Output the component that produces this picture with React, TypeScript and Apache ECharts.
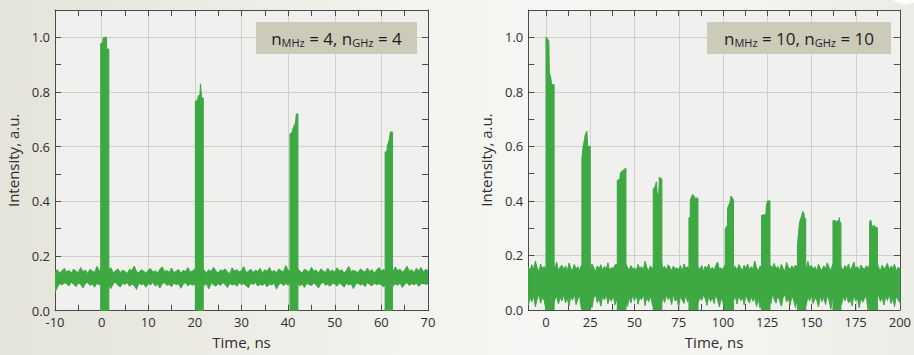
import React, { useEffect, useRef } from 'react';
import * as echarts from 'echarts';

// ---------- data ----------
// sampled noise envelopes (upper / lower edge of the dense trace)
const LEFT_T0 = -10;
const LEFT_DT = 0.5;
const LEFT_NOISE_HI = [
  0.142, 0.150, 0.138, 0.146, 0.155, 0.141, 0.148, 0.137, 0.152, 0.144,
  0.139, 0.158, 0.143, 0.149, 0.136, 0.151, 0.145, 0.140, 0.162, 0.147,
  0.150, 0.145, 0.141, 0.149, 0.157, 0.138, 0.146, 0.153, 0.140, 0.148,
  0.144, 0.136, 0.151, 0.147, 0.163, 0.142, 0.139, 0.150, 0.145, 0.137,
  0.149, 0.154, 0.141, 0.146, 0.138, 0.152, 0.160, 0.143, 0.147, 0.140,
  0.156, 0.139, 0.145, 0.151, 0.137, 0.148, 0.143, 0.158, 0.141, 0.146,
  0.152, 0.144, 0.140, 0.155, 0.147, 0.139, 0.150, 0.143, 0.159, 0.145,
  0.138, 0.149, 0.146, 0.153, 0.141, 0.136, 0.157, 0.144, 0.150, 0.142,
  0.147, 0.161, 0.139, 0.145, 0.152, 0.140, 0.148, 0.143, 0.155, 0.137,
  0.150, 0.144, 0.158, 0.141, 0.147, 0.139, 0.153, 0.146, 0.142, 0.165,
  0.148, 0.143, 0.151, 0.140, 0.156, 0.145, 0.138, 0.152, 0.147, 0.141,
  0.159, 0.144, 0.149, 0.137, 0.153, 0.146, 0.140, 0.155, 0.143, 0.148,
  0.141, 0.157, 0.145, 0.150, 0.138, 0.147, 0.162, 0.142, 0.148, 0.144,
  0.139, 0.153, 0.146, 0.141, 0.156, 0.143, 0.150, 0.137, 0.149, 0.158,
  0.145, 0.151, 0.140, 0.166, 0.148, 0.143, 0.160, 0.146, 0.152, 0.141,
  0.149, 0.163, 0.144, 0.150, 0.139, 0.155, 0.146, 0.158, 0.142, 0.151,
  0.147,
];
const LEFT_NOISE_LO = [
  0.068, 0.085, 0.100, 0.094, 0.102, 0.098, 0.091, 0.104, 0.097, 0.088,
  0.101, 0.096, 0.083, 0.099, 0.103, 0.092, 0.098, 0.086, 0.100, 0.095,
  0.097, 0.090, 0.102, 0.094, 0.081, 0.099, 0.104, 0.093, 0.087, 0.100,
  0.096, 0.103, 0.089, 0.098, 0.092, 0.078, 0.101, 0.095, 0.099, 0.086,
  0.100, 0.094, 0.104, 0.090, 0.097, 0.083, 0.099, 0.102, 0.093, 0.096,
  0.088, 0.101, 0.095, 0.099, 0.082, 0.097, 0.103, 0.091, 0.098, 0.094,
  0.096, 0.100, 0.087, 0.102, 0.093, 0.098, 0.080, 0.101, 0.095, 0.090,
  0.099, 0.092, 0.103, 0.096, 0.085, 0.100, 0.094, 0.098, 0.089, 0.102,
  0.095, 0.099, 0.091, 0.084, 0.101, 0.096, 0.103, 0.090, 0.097, 0.093,
  0.100, 0.087, 0.098, 0.094, 0.102, 0.079, 0.096, 0.101, 0.092, 0.099,
  0.094, 0.100, 0.088, 0.097, 0.103, 0.091, 0.098, 0.085, 0.100, 0.096,
  0.092, 0.101, 0.095, 0.083, 0.099, 0.104, 0.093, 0.097, 0.089, 0.100,
  0.098, 0.090, 0.102, 0.095, 0.086, 0.100, 0.094, 0.099, 0.081, 0.097,
  0.101, 0.093, 0.098, 0.088, 0.103, 0.096, 0.091, 0.100, 0.095, 0.099,
  0.094, 0.087, 0.100, 0.096, 0.102, 0.090, 0.098, 0.093, 0.101, 0.085,
  0.097, 0.103, 0.092, 0.099, 0.095, 0.100, 0.089, 0.098, 0.102, 0.096,
  0.099,
];

const RIGHT_T0 = -10;
const RIGHT_DT = 1;
const RIGHT_NOISE_HI = [
  0.158, 0.145, 0.166, 0.150, 0.180, 0.154, 0.141, 0.168, 0.152, 0.160,
  0.146, 0.170, 0.155, 0.142, 0.163, 0.150, 0.176, 0.144, 0.157, 0.164,
  0.148, 0.161, 0.143, 0.172, 0.153, 0.146, 0.167, 0.151, 0.159, 0.144,
  0.164, 0.152, 0.177, 0.145, 0.158, 0.148, 0.169, 0.155, 0.142, 0.162,
  0.151, 0.166, 0.146, 0.160, 0.149, 0.173, 0.143, 0.156, 0.150, 0.165,
  0.168, 0.147, 0.161, 0.154, 0.142, 0.171, 0.157, 0.146, 0.163, 0.150,
  0.155, 0.144, 0.167, 0.152, 0.159, 0.146, 0.179, 0.156, 0.143, 0.162,
  0.149, 0.164, 0.153, 0.141, 0.170, 0.188, 0.151, 0.160, 0.145, 0.166,
  0.157, 0.144, 0.161, 0.150, 0.155, 0.148, 0.163, 0.142, 0.169, 0.152,
  0.159, 0.147, 0.165, 0.151, 0.143, 0.174, 0.156, 0.149, 0.163, 0.141,
  0.161, 0.152, 0.168, 0.146, 0.157, 0.144, 0.164, 0.176, 0.150, 0.155,
  0.148, 0.163, 0.150, 0.158, 0.142, 0.172, 0.153, 0.160, 0.145, 0.167,
  0.156, 0.143, 0.165, 0.151, 0.169, 0.147, 0.159, 0.149, 0.180, 0.154,
  0.144, 0.161, 0.152, 0.166, 0.148, 0.158, 0.141, 0.163, 0.155, 0.171,
  0.150, 0.160, 0.145, 0.167, 0.153, 0.142, 0.174, 0.156, 0.149, 0.162,
  0.151, 0.165, 0.157, 0.144, 0.170, 0.150, 0.161, 0.147, 0.178, 0.155,
  0.164, 0.149, 0.159, 0.143, 0.168, 0.153, 0.146, 0.162, 0.151, 0.173,
  0.156, 0.145, 0.166, 0.150, 0.161, 0.140, 0.172, 0.154, 0.148, 0.163,
  0.152, 0.169, 0.146, 0.158, 0.176, 0.150, 0.160, 0.143, 0.165, 0.154,
  0.149, 0.162, 0.153, 0.167, 0.145, 0.159, 0.151, 0.175, 0.156, 0.144,
  0.164, 0.150, 0.158, 0.171, 0.147, 0.161, 0.153, 0.168, 0.143, 0.157,
  0.151,
];
const RIGHT_NOISE_LO = [
  0.018, 0.045, 0.030, 0.052, 0.012, 0.040, 0.058, 0.025, 0.047, 0.035,
  0.000, 0.042, 0.028, 0.055, 0.010, 0.038, 0.050, 0.022, 0.046, 0.033,
  0.057, 0.026, 0.044, 0.015, 0.049, 0.036, 0.060, 0.020, 0.041, 0.053,
  0.005, 0.039, 0.024, 0.000, 0.048, 0.031, 0.008, 0.045, 0.056, 0.027,
  0.043, 0.014, 0.051, 0.037, 0.058, 0.023, 0.046, 0.032, 0.054, 0.019,
  0.040, 0.003, 0.029, 0.050, 0.000, 0.035, 0.012, 0.047, 0.026, 0.055,
  0.034, 0.057, 0.021, 0.044, 0.038, 0.060, 0.016, 0.048, 0.030, 0.052,
  0.025, 0.002, 0.043, 0.000, 0.036, 0.010, 0.049, 0.028, 0.054, 0.039,
  0.047, 0.020, 0.056, 0.033, 0.041, 0.013, 0.050, 0.037, 0.024, 0.058,
  0.030, 0.045, 0.006, 0.039, 0.052, 0.000, 0.027, 0.048, 0.035, 0.055,
  0.042, 0.017, 0.053, 0.031, 0.046, 0.024, 0.059, 0.036, 0.011, 0.044,
  0.028, 0.000, 0.040, 0.015, 0.051, 0.004, 0.037, 0.049, 0.022, 0.056,
  0.034, 0.047, 0.019, 0.055, 0.038, 0.026, 0.050, 0.032, 0.045, 0.013,
  0.041, 0.007, 0.052, 0.029, 0.000, 0.036, 0.048, 0.021, 0.057, 0.039,
  0.025, 0.053, 0.035, 0.014, 0.046, 0.058, 0.030, 0.042, 0.018, 0.051,
  0.037, 0.009, 0.044, 0.000, 0.055, 0.027, 0.040, 0.016, 0.049, 0.033,
  0.056, 0.024, 0.043, 0.038, 0.011, 0.050, 0.031, 0.047, 0.020, 0.054,
  0.036, 0.003, 0.045, 0.028, 0.000, 0.041, 0.053, 0.019, 0.048, 0.034,
  0.052, 0.026, 0.039, 0.015, 0.057, 0.033, 0.046, 0.008, 0.044, 0.029,
  0.041, 0.054, 0.000, 0.037, 0.022, 0.049, 0.005, 0.040, 0.055, 0.031,
  0.046, 0.018, 0.050, 0.035, 0.059, 0.024, 0.043, 0.012, 0.051, 0.038,
  0.027,
];

// pulses: [time ns, intensity]
const LEFT_PULSES = [
  [[-0.2, 0], [-0.2, 0.977], [0.25, 0.98], [0.3, 0.997], [0.5, 1.0], [1.05, 1.0], [1.1, 0.957], [1.55, 0.957], [1.55, 0]],
  [[20.1, 0], [20.1, 0.766], [20.6, 0.77], [20.7, 0.785], [21.1, 0.79], [21.2, 0.83], [21.35, 0.8], [21.45, 0.78], [21.8, 0.778], [21.8, 0]],
  [[40.4, 0], [40.4, 0.646], [40.9, 0.655], [41.0, 0.665], [41.4, 0.68], [41.6, 0.69], [41.75, 0.72], [42.1, 0.72], [42.1, 0]],
  [[60.8, 0], [60.8, 0.58], [61.2, 0.585], [61.3, 0.605], [61.6, 0.62], [61.8, 0.64], [61.95, 0.654], [62.4, 0.654], [62.4, 0]],
];
const RIGHT_PULSES = [
  [[0.0, 0], [0.0, 1.0], [0.8, 0.995], [1.6, 0.985], [1.9, 0.87], [2.7, 0.852], [3.2, 0.826], [4.6, 0.826], [4.6, 0]],
  [[20.3, 0], [20.3, 0.555], [21.0, 0.6], [21.4, 0.613], [22.2, 0.643], [23.1, 0.656], [23.6, 0.6], [25.0, 0.6], [25.0, 0]],
  [[40.3, 0], [40.3, 0.475], [41.8, 0.48], [42.0, 0.503], [44.2, 0.515], [44.9, 0.52], [45.2, 0.52], [45.2, 0]],
  [[60.6, 0], [60.6, 0.442], [61.8, 0.455], [62.4, 0.47], [62.9, 0.424], [63.8, 0.43], [64.0, 0.487], [65.5, 0.48], [65.5, 0]],
  [[80.8, 0], [80.8, 0.338], [81.5, 0.34], [81.6, 0.405], [82.9, 0.424], [84.3, 0.41], [85.9, 0.41], [85.9, 0]],
  [[101.3, 0], [101.3, 0.298], [102.5, 0.31], [102.7, 0.375], [104.0, 0.395], [104.6, 0.418], [105.4, 0.41], [106.0, 0.405], [106.0, 0]],
  [[121.8, 0], [121.8, 0.347], [124.3, 0.35], [124.5, 0.38], [125.2, 0.4], [126.6, 0.4], [126.6, 0]],
  [[142.1, 0], [142.1, 0.234], [142.8, 0.29], [143.3, 0.322], [144.5, 0.345], [145.1, 0.361], [145.8, 0.355], [146.1, 0.335], [146.8, 0.335], [146.8, 0]],
  [[162.2, 0], [162.2, 0.329], [164.2, 0.325], [165.5, 0.328], [165.8, 0.339], [166.2, 0.32], [166.7, 0.32], [166.7, 0]],
  [[182.9, 0], [182.9, 0.324], [183.6, 0.33], [184.2, 0.305], [185.5, 0.31], [186.5, 0.302], [187.3, 0.302], [187.3, 0]],
];

// axis ticks / labels
const LEFT_X_LABELS = [-10, 0, 10, 20, 30, 40, 50, 60, 70];
const LEFT_X_TICKS = [-10, -5, 0, 5, 10, 15, 20, 25, 30, 35, 40, 45, 50, 55, 60, 65, 70];
const RIGHT_X_LABELS = [0, 25, 50, 75, 100, 125, 150, 175, 200];
const RIGHT_X_TICKS = [0, 12.5, 25, 37.5, 50, 62.5, 75, 87.5, 100, 112.5, 125, 137.5, 150, 162.5, 175, 187.5, 200];
const Y_LABELS = [0, 0.2, 0.4, 0.6, 0.8, 1.0];
const Y_TICKS = [0, 0.1, 0.2, 0.3, 0.4, 0.5, 0.6, 0.7, 0.8, 0.9, 1.0];

const LEFT_X_RANGE = [-10, 70];
const RIGHT_X_RANGE = [-10, 200];
const Y_RANGE = [0, 1.1];

const LEFT_TAG = { mhz: '4', ghz: '4' };
const RIGHT_TAG = { mhz: '10', ghz: '10' };

// ---------- styling ----------
const GREEN = '#3ea843';
const AXIS_COLOR = '#4a4a4a';
const GRID_COLOR = '#cfcfcb';
const TEXT_COLOR = '#2e2e2e';
const PLOT_BG = '#f0f0ee';
const FONT = "'Open Sans', 'Noto Sans', sans-serif";

const LEFT_RECT = { left: 55, top: 10, width: 373, height: 300.7 };
const RIGHT_RECT = { left: 528.3, top: 10, width: 371.7, height: 300 };

function overlayAxes(gridIndex: number, xr: number[], xMajors: number[]) {
  const x = {
    type: 'value', gridIndex, min: xr[0], max: xr[1],
    axisLine: { show: false, onZero: false },
    axisTick: { show: false, customValues: xMajors },
    axisLabel: { show: false },
    splitLine: { show: true, lineStyle: { color: GRID_COLOR, width: 1 } },
  };
  const y = {
    type: 'value', gridIndex, min: Y_RANGE[0], max: Y_RANGE[1],
    axisLine: { show: false, onZero: false },
    axisTick: { show: false, customValues: Y_LABELS },
    axisLabel: { show: false },
    splitLine: { show: true, lineStyle: { color: GRID_COLOR, width: 1 } },
  };
  return { x, y };
}

function mainAxes(gridIndex: number, xr: number[], xLabels: number[], xTicks: number[]) {
  const line = { show: true, onZero: false, lineStyle: { color: AXIS_COLOR, width: 1 } };
  const tick = (vals: number[]) => ({ show: true, inside: true, length: 6, customValues: vals, lineStyle: { color: AXIS_COLOR, width: 1 } });
  const lbl = { fontSize: 13, color: TEXT_COLOR, fontFamily: FONT, margin: 5 };
  const nameStyle = { fontSize: 15, color: TEXT_COLOR, fontFamily: FONT };
  const xb = {
    type: 'value', gridIndex, position: 'bottom', min: xr[0], max: xr[1],
    axisLine: line, axisTick: tick(xTicks),
    axisLabel: { ...lbl, customValues: xLabels },
    splitLine: { show: false },
    name: 'Time, ns', nameLocation: 'middle', nameGap: 24, nameTextStyle: nameStyle,
  };
  const xt = {
    type: 'value', gridIndex, position: 'top', min: xr[0], max: xr[1],
    axisLine: line, axisTick: tick(xTicks), axisLabel: { show: false }, splitLine: { show: false },
  };
  const yl = {
    type: 'value', gridIndex, position: 'left', min: Y_RANGE[0], max: Y_RANGE[1],
    axisLine: line, axisTick: tick(Y_TICKS),
    axisLabel: { ...lbl, customValues: Y_LABELS, formatter: (v: number) => v.toFixed(1) },
    splitLine: { show: false },
    name: 'Intensity, a.u.', nameLocation: 'middle', nameGap: 35, nameTextStyle: nameStyle,
  };
  const yr = {
    type: 'value', gridIndex, position: 'right', min: Y_RANGE[0], max: Y_RANGE[1],
    axisLine: line, axisTick: tick(Y_TICKS), axisLabel: { show: false }, splitLine: { show: false },
  };
  return { xb, xt, yl, yr };
}

// each polygon is a list of [t, v] points, mapped through the axes with api.coord
function polygonSeries(xi: number, yi: number, polys: number[][][], z: number) {
  return {
    type: 'custom', xAxisIndex: xi, yAxisIndex: yi, silent: true, z, clip: true,
    data: polys.map((p) => p[0]),
    renderItem: (params: any, api: any) => {
      const poly = polys[params.dataIndex];
      return {
        type: 'polygon',
        shape: { points: poly.map((p) => api.coord(p)) },
        style: { fill: GREEN, stroke: GREEN, lineWidth: 1 },
      };
    },
  };
}

function traceSeries(xi: number, yi: number, t0: number, dt: number, hi: number[], lo: number[], pulses: number[][][]) {
  const times = hi.map((_, i) => t0 + i * dt);
  const upper = times.map((t, i) => [t, hi[i]]);
  const lower = times.map((t, i) => [t, lo[i]]).reverse();
  const band = [...upper, ...lower];
  return [polygonSeries(xi, yi, [band], 2), polygonSeries(xi, yi, pulses, 3)];
}

function tagGraphic(x: number, y: number, w: number, h: number, tag: { mhz: string; ghz: string }) {
  return [
    { type: 'rect', left: x, top: y, shape: { width: w, height: h }, style: { fill: '#cccbba' }, z: 10 },
    {
      type: 'text', x: x + w / 2, y: y + h / 2, z: 11,
      style: {
        text: `{a|n}{b|MHz}{a| = ${tag.mhz}, n}{b|GHz}{a| = ${tag.ghz}}`,
        align: 'center', verticalAlign: 'middle',
        rich: {
          a: { fontSize: 17, fontFamily: FONT, fill: '#1e1e1e', color: '#1e1e1e' },
          b: { fontSize: 11, fontFamily: FONT, fill: '#1e1e1e', color: '#1e1e1e', padding: [9, 0, 0, 0] },
        },
      },
    },
  ];
}

export default function App() {
  const ref = useRef<HTMLDivElement>(null);
  useEffect(() => {
    if (!ref.current) return;
    const chart = echarts.init(ref.current, null, { renderer: 'svg' });
    const lo = overlayAxes(0, LEFT_X_RANGE, LEFT_X_LABELS);
    const lm = mainAxes(1, LEFT_X_RANGE, LEFT_X_LABELS, LEFT_X_TICKS);
    const ro = overlayAxes(2, RIGHT_X_RANGE, RIGHT_X_LABELS);
    const rm = mainAxes(3, RIGHT_X_RANGE, RIGHT_X_LABELS, RIGHT_X_TICKS);
    const option: any = {
      animation: false,
      grid: [
        { ...LEFT_RECT, show: true, backgroundColor: PLOT_BG, borderWidth: 0 },
        { ...LEFT_RECT, show: false },
        { ...RIGHT_RECT, show: true, backgroundColor: PLOT_BG, borderWidth: 0 },
        { ...RIGHT_RECT, show: false },
      ],
      xAxis: [lo.x, lm.xb, lm.xt, ro.x, rm.xb, rm.xt],
      yAxis: [lo.y, lm.yl, lm.yr, ro.y, rm.yl, rm.yr],
      series: [
        ...traceSeries(1, 1, LEFT_T0, LEFT_DT, LEFT_NOISE_HI, LEFT_NOISE_LO, LEFT_PULSES),
        ...traceSeries(4, 4, RIGHT_T0, RIGHT_DT, RIGHT_NOISE_HI, RIGHT_NOISE_LO, RIGHT_PULSES),
      ],
      graphic: [
        { type: 'circle', shape: { cx: 906, cy: -20, r: 24 }, style: { fill: '#fdfdfd' }, z: 1 },
        ...tagGraphic(256, 22, 161, 32, LEFT_TAG),
        ...tagGraphic(707, 22, 184, 32, RIGHT_TAG),
      ],
    };
    chart.setOption(option);
    return () => chart.dispose();
  }, []);
  return (
    <div
      ref={ref}
      style={{
        position: 'absolute', left: 0, top: 0, width: 914, height: 355,
        background: 'linear-gradient(90deg, #e4e4da 0%, #ebebe4 22%, #f3f3ef 45%, #f6f6f4 58%, #f2f2ee 85%, #ececE6 100%)',
      }}
    />
  );
}
